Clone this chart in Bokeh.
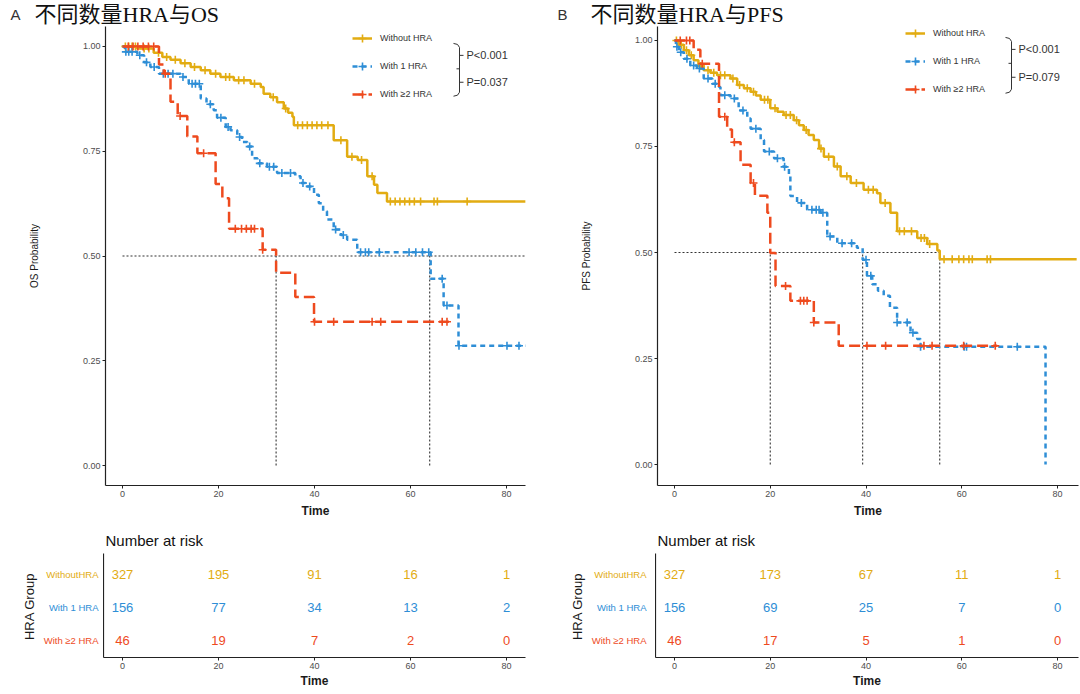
import numpy as np
from bokeh.plotting import figure
from bokeh.layouts import row, column
from bokeh.models import (Range1d, FixedTicker, NumeralTickFormatter, Legend, LegendItem)
from bokeh.core.properties import value
from bokeh.embed import file_html
from bokeh.resources import INLINE

# ---------------------------------------------------------------- data
GROUPS = ["Without HRA", "With 1 HRA", "With \u22652 HRA"]
TABLE_LABELS = ["WithoutHRA", "With 1 HRA", "With \u22652 HRA"]
COLORS = ["#E2AC12", "#2E8ED6", "#EE4A1E"]
DASHES = ["solid", "5 4", "11 5"]

TIME_TICKS = [0, 20, 40, 60, 80]
PROB_TICKS = [0.0, 0.25, 0.5, 0.75, 1.0]

# Panel A : OS
OS_WITHOUT_T = [0, 3, 6.5, 8.3, 10, 12.1, 14.2, 16.3, 18.3, 20.4, 23.2, 26.7, 28.8, 29.4, 30.8,
                32.2, 33.6, 34.5, 35.4, 35.7, 44.0, 46.8, 49.0, 51.0, 52.4, 53.1, 55.1, 84]
OS_WITHOUT_S = [1.0, 0.995, 0.985, 0.975, 0.968, 0.96, 0.951, 0.943, 0.935, 0.927, 0.919, 0.911,
                0.903, 0.887, 0.879, 0.867, 0.852, 0.842, 0.832, 0.812, 0.776, 0.737, 0.729, 0.69,
                0.67, 0.65, 0.63, 0.63]
OS_WITHOUT_CENSOR = [0.6, 1.3, 2.0, 2.7, 4.5, 5.5, 7.5, 9.2, 11.0, 13.0, 15.0, 17.2, 19.4, 21.5,
                     22.3, 24.2, 25.3, 27.5, 31.4, 34.0, 36.5, 37.5, 38.5, 39.5, 40.5, 41.5, 42.8,
                     45.5, 47.8, 49.8, 52.0, 55.8, 56.8, 57.8, 58.8, 59.8, 60.8, 62.1, 64.9, 65.6,
                     71.8]

OS_ONE_T = [0, 0.5, 3.1, 4.5, 5.8, 7.6, 12.1, 13.8, 16.3, 17.5, 19.0, 19.7, 21.5, 22.5, 23.9,
            24.9, 26.0, 27.0, 28.1, 30.1, 32.2, 36.0, 37.1, 38.1, 39.9, 40.9, 41.8, 42.6, 44.0,
            45.5, 46.8, 48.9, 64.2, 66.9, 70.0, 84]
OS_ONE_S = [1.0, 0.987, 0.979, 0.962, 0.951, 0.935, 0.927, 0.911, 0.876, 0.862, 0.848, 0.83,
            0.808, 0.8, 0.784, 0.772, 0.761, 0.733, 0.721, 0.713, 0.698, 0.69, 0.674, 0.666,
            0.646, 0.626, 0.607, 0.587, 0.563, 0.55, 0.539, 0.509, 0.446, 0.382, 0.286, 0.286]
OS_ONE_CENSOR = [0.7, 1.3, 2.0, 3.6, 5.0, 6.6, 8.5, 9.5, 10.5, 12.6, 14.5, 15.2, 16.0, 18.3, 20.5,
                 22.0, 24.4, 26.5, 28.6, 30.6, 31.5, 33.2, 35.0, 37.6, 39.0, 44.4, 46.0, 49.6,
                 50.6, 51.3, 53.5, 59.7, 61.1, 62.5, 63.8, 66.6, 67.6, 70.1, 80.1, 82.6]

OS_TWO_T = [0, 7.6, 8.6, 10.0, 11.5, 13.5, 15.6, 19.4, 20.8, 22.2, 29.2, 32.0, 36.0, 39.9, 68.0]
OS_TWO_S = [1.0, 0.957, 0.935, 0.868, 0.834, 0.785, 0.745, 0.672, 0.638, 0.565, 0.515, 0.46,
            0.402, 0.343, 0.343]
OS_TWO_CENSOR = [1.2, 2.2, 3.2, 4.3, 5.4, 6.5, 8.9, 12.0, 16.9, 23.5, 24.8, 25.8, 26.8, 27.5,
                 29.2, 40.0, 44.0, 52.0, 53.8, 66.6, 67.6]

OS_MEDIANS = [32.0, 64.0]
OS_MEDIAN_HLINE_END = 84
OS_PVALUES = ["P<0.001", "P=0.037"]

# Panel B : PFS
PFS_WITHOUT_T = [0, 0.8, 1.95, 3.0, 4.0, 5.0, 6.1, 7.5, 8.9, 11.7, 13.1, 14.5, 15.9, 17.0, 18.0,
                 20.0, 21.5, 22.8, 24.9, 26.0, 27.0, 28.0, 29.1, 30.2, 31.2, 33.3, 34.7, 36.8,
                 39.5, 42.3, 43.0, 45.1, 46.5, 50.7, 52.8, 54.9, 55.4, 84]
PFS_WITHOUT_S = [1.0, 0.99, 0.977, 0.965, 0.953, 0.94, 0.93, 0.924, 0.918, 0.91, 0.895, 0.887,
                 0.879, 0.87, 0.86, 0.84, 0.832, 0.824, 0.812, 0.8, 0.789, 0.777, 0.765, 0.745,
                 0.726, 0.703, 0.68, 0.664, 0.648, 0.64, 0.617, 0.594, 0.55, 0.534, 0.52, 0.505,
                 0.484, 0.484]
PFS_WITHOUT_CENSOR = [0.4, 1.4, 2.5, 3.5, 5.5, 7.0, 8.2, 9.6, 10.5, 12.2, 13.6, 15.2, 16.5, 18.8,
                      19.5, 21.0, 23.3, 24.2, 25.5, 27.5, 30.6, 32.2, 34.0, 36.0, 38.0, 40.5,
                      41.5, 44.0, 47.0, 48.0, 49.5, 51.5, 52.2, 53.3, 56.3, 58.0, 59.4, 60.4,
                      61.5, 62.2, 65.3, 66.0]

PFS_ONE_T = [0, 0.3, 0.9, 1.95, 3.3, 4.7, 6.1, 7.9, 9.3, 9.6, 11.7, 13.4, 15.2, 15.9, 18.0, 18.7,
             20.8, 22.8, 23.9, 24.2, 25.6, 27.7, 30.5, 31.9, 34.0, 38.1, 39.3, 40.2, 41.3, 42.5,
             43.7, 45.0, 46.5, 49.3, 50.7, 51.4, 77.5]
PFS_ONE_S = [1.0, 0.985, 0.972, 0.957, 0.941, 0.934, 0.91, 0.898, 0.89, 0.871, 0.863, 0.835,
             0.816, 0.792, 0.765, 0.738, 0.722, 0.702, 0.68, 0.633, 0.617, 0.601, 0.594, 0.538,
             0.522, 0.511, 0.483, 0.445, 0.425, 0.41, 0.398, 0.37, 0.335, 0.311, 0.296, 0.278,
             0.0]
PFS_ONE_CENSOR = [0.5, 1.3, 2.6, 4.0, 5.2, 7.0, 8.5, 10.5, 12.5, 14.3, 17.0, 19.8, 21.5, 23.0,
                  26.5, 28.7, 29.6, 30.2, 31.0, 32.5, 35.0, 37.0, 40.0, 41.0, 46.5, 48.6, 49.8,
                  51.4, 60.5, 61.0, 71.6]

PFS_TWO_T = [0, 4.0, 5.4, 9.3, 11.0, 12.0, 13.8, 15.9, 16.8, 19.4, 20.0, 21.1, 24.2, 29.1, 34.3,
             67.4]
PFS_TWO_S = [1.0, 0.978, 0.945, 0.82, 0.79, 0.76, 0.707, 0.664, 0.634, 0.594, 0.499, 0.421,
             0.386, 0.335, 0.28, 0.28]
PFS_TWO_CENSOR = [1.2, 2.5, 3.2, 5.8, 10.5, 12.5, 16.5, 23.2, 26.3, 27.0, 27.7, 29.1, 40.2, 44.1,
                  52.1, 53.8, 60.4, 67.0]

PFS_MEDIANS = [20.0, 39.3, 55.4]
PFS_MEDIAN_HLINE_END = 55.4
PFS_PVALUES = ["P<0.001", "P=0.079"]

# Number at risk
RISK_TIMES = [0, 20, 40, 60, 80]
OS_RISK_WITHOUT = [327, 195, 91, 16, 1]
OS_RISK_ONE = [156, 77, 34, 13, 2]
OS_RISK_TWO = [46, 19, 7, 2, 0]
PFS_RISK_WITHOUT = [327, 173, 67, 11, 1]
PFS_RISK_ONE = [156, 69, 25, 7, 0]
PFS_RISK_TWO = [46, 17, 5, 1, 0]

PANEL_LETTERS = ["A", "B"]
PANEL_TITLES = ["不同数量HRA与OS", "不同数量HRA与PFS"]

# ---------------------------------------------------------------- layout / style
SANS = "Liberation Sans"
TITLE_FONT = "Liberation Serif, Noto Sans CJK SC"
INK = "#1a1a1a"
TICK_GRAY = "#4d4d4d"
ROW_POS = [3, 2, 1]
HEADER_H = 26


def geo(fig_x, fig_y, fig_w, fig_h, f_left, f_right, f_top, f_bottom, x0, ppx, y0, ppy):
    return dict(fig_x=fig_x, fig_y=fig_y, fig_w=fig_w, fig_h=fig_h, f_left=f_left,
                f_right=f_right, f_top=f_top, f_bottom=f_bottom, x0=x0, ppx=ppx, y0=y0, ppy=ppy)


G_KM_A = geo(0, 26, 548, 494, 105, 525, 26, 487, 122, 4.8, 467, 421)
G_KM_B = geo(548, 26, 531, 494, 657, 1078, 26, 487, 674, 4.7875, 466, 426)
G_LAB_A = geo(0, 520, 103, 173, 0, 103, 553, 657, 0, 1.0, 673, 33)
G_TAB_A = geo(103, 520, 445, 173, 103, 525, 553, 657, 122, 4.8, 673, 33)
G_LAB_B = geo(548, 520, 107, 173, 548, 655, 553, 657, 548, 1.0, 673, 33)
G_TAB_B = geo(655, 520, 424, 173, 655, 1078, 553, 657, 674, 4.7875, 673, 33)


def dx(g, px):
    return (px - g["x0"]) / g["ppx"]


def dy(g, py):
    return (g["y0"] - py) / g["ppy"]


def base_figure(g, axes=True):
    kw = {} if axes else dict(x_axis_type=None, y_axis_type=None)
    p = figure(width=g["fig_w"], height=g["fig_h"], output_backend="svg", toolbar_location=None,
               x_range=Range1d(dx(g, g["f_left"]), dx(g, g["f_right"])),
               y_range=Range1d(dy(g, g["f_bottom"]), dy(g, g["f_top"])),
               min_border_left=g["f_left"] - g["fig_x"],
               min_border_right=g["fig_x"] + g["fig_w"] - g["f_right"],
               min_border_top=g["f_top"] - g["fig_y"],
               min_border_bottom=g["fig_y"] + g["fig_h"] - g["f_bottom"], **kw)
    p.outline_line_color = None
    p.grid.visible = False
    p.background_fill_color = "white"
    p.border_fill_color = "white"
    if axes:
        for ax in (p.xaxis[0], p.yaxis[0]):
            ax.axis_line_color = "#222222"
            ax.axis_line_width = 1.2
            ax.major_tick_line_color = "#222222"
            ax.major_tick_out = 3
            ax.major_tick_in = 0
            ax.minor_tick_line_color = None
            ax.major_label_text_font = SANS
            ax.major_label_text_font_size = "9px"
            ax.major_label_text_color = TICK_GRAY
            ax.major_label_standoff = 2
            ax.axis_label_text_font = SANS
            ax.axis_label_text_font_style = "bold"
            ax.axis_label_text_color = INK
    return p


def header_figure():
    g = geo(0, 0, 1079, HEADER_H, 0, 1079, 0, HEADER_H, 0, 1.0, HEADER_H, 1.0)
    p = base_figure(g, axes=False)
    # letter + title of each panel
    p.text(x=[10, 557], y=[dy(g, 14)] * 2, text=PANEL_LETTERS, text_font=value(SANS),
           text_font_size="15px", text_color="#333333", text_baseline="middle")
    p.text(x=[34, 590], y=[dy(g, 14)] * 2, text=PANEL_TITLES, text_font=value(TITLE_FONT),
           text_font_size="22px", text_color="#111111", text_baseline="middle")
    return p


def surv_at(times, surv, tc):
    idx = np.searchsorted(np.asarray(times), np.asarray(tc), side="right") - 1
    return np.asarray(surv)[idx]


def km_panel(g, ylabel, curves, medians, hline_end, pvalues, lg, br):
    p = base_figure(g)
    xa, ya = p.xaxis[0], p.yaxis[0]
    xa.ticker = FixedTicker(ticks=TIME_TICKS)
    xa.axis_label = "Time"
    xa.axis_label_text_font_size = "12px"
    xa.axis_label_standoff = 4
    ya.ticker = FixedTicker(ticks=PROB_TICKS)
    ya.formatter = NumeralTickFormatter(format="0.00")
    ya.axis_label = ylabel
    ya.axis_label_text_font_size = "10px"
    ya.axis_label_text_font_style = "normal"
    ya.axis_label_standoff = 40

    # median reference lines
    p.segment(x0=[0] + medians, y0=[0.5] + [0] * len(medians),
              x1=[hline_end] + medians, y1=[0.5] * (len(medians) + 1),
              line_color="#333333", line_width=1.1, line_dash="2 2")

    items = []
    for name, color, dash, (t, s, c) in zip(GROUPS, COLORS, DASHES, curves):
        r1 = p.step(t, s, mode="after", line_color=color, line_width=2.5, line_dash=dash)
        r2 = p.scatter(c, surv_at(t, s, c), marker="cross", size=8, line_color=color,
                       line_width=1.6)
        items.append(LegendItem(label=name, renderers=[r1, r2]))

    # legend: 3 rows of 20px + 2 gaps of 8px = 76px tall
    legend = Legend(items=items,
                    location=(lg["x"] - g["f_left"], g["f_bottom"] - (lg["top"] + 76)),
                    orientation="vertical", padding=0, margin=0, spacing=8,
                    glyph_height=20, label_height=20, glyph_width=20, label_standoff=8,
                    label_text_font=SANS, label_text_font_size="9px", label_text_color="#333333",
                    background_fill_alpha=0, border_line_color=None)
    p.add_layout(legend)

    # bracket + p-values
    x, top, bot, t1, t2 = br["x"], br["top"], br["bottom"], br["t1"], br["t2"]
    mid = (t1 + t2) / 2
    segs = [
        [(x - 6, top), (x - 2, top + 1), (x, top + 4), (x, bot - 4), (x - 2, bot - 1), (x - 6, bot)],
        [(x, t1), (x + 4, t1)],
        [(x, t2), (x + 4, t2)],
        [(x, mid), (x - 3, mid)],
    ]
    p.multi_line(xs=[[dx(g, a) for a, b in s] for s in segs],
                 ys=[[dy(g, b) for a, b in s] for s in segs],
                 line_color="#333333", line_width=1)
    p.text(x=[dx(g, x + 7)] * 2, y=[dy(g, t1), dy(g, t2)], text=pvalues,
           text_font=value(SANS), text_font_size="11px", text_color="#333333",
           text_align="left", text_baseline="middle")
    return p


def risk_label_panel(g):
    p = base_figure(g, axes=False)
    p.text(x=[dx(g, g["fig_x"] + 98)] * 3, y=ROW_POS, text=TABLE_LABELS, text_color=COLORS,
           text_font=value(SANS), text_font_size="9.5px", text_align="right",
           text_baseline="middle")
    p.text(x=[dx(g, g["fig_x"] + 29)], y=[dy(g, 606)], text=["HRA Group"], angle=np.pi / 2,
           text_font=value(SANS), text_font_size="13px", text_color=INK,
           text_align="center", text_baseline="middle")
    return p


def risk_panel(g, rows_values):
    p = base_figure(g)
    p.title.text = "Number at risk"
    p.title.text_font = SANS
    p.title.text_font_size = "15px"
    p.title.text_font_style = "normal"
    p.title.text_color = "#111111"
    p.title.align = "left"
    p.title.offset = 2
    p.title.standoff = 9
    xa, ya = p.xaxis[0], p.yaxis[0]
    xa.ticker = FixedTicker(ticks=RISK_TIMES)
    xa.axis_label = "Time"
    xa.axis_label_text_font_size = "12px"
    xa.axis_label_standoff = 2
    ya.ticker = FixedTicker(ticks=[])
    ya.major_tick_out = 0
    ya.major_label_standoff = 0

    for vals, color, rpos in zip(rows_values, COLORS, ROW_POS):
        p.text(x=RISK_TIMES, y=[rpos] * len(RISK_TIMES), text=[str(v) for v in vals],
               text_color=color, text_font=value(SANS), text_font_size="13px",
               text_align="center", text_baseline="middle")
    return p


header = header_figure()
km_a = km_panel(G_KM_A, "OS Probability",
                [(OS_WITHOUT_T, OS_WITHOUT_S, OS_WITHOUT_CENSOR),
                 (OS_ONE_T, OS_ONE_S, OS_ONE_CENSOR),
                 (OS_TWO_T, OS_TWO_S, OS_TWO_CENSOR)],
                OS_MEDIANS, OS_MEDIAN_HLINE_END, OS_PVALUES,
                dict(x=352, top=30), dict(x=459, top=43, bottom=96, t1=55, t2=82))
km_b = km_panel(G_KM_B, "PFS Probability",
                [(PFS_WITHOUT_T, PFS_WITHOUT_S, PFS_WITHOUT_CENSOR),
                 (PFS_ONE_T, PFS_ONE_S, PFS_ONE_CENSOR),
                 (PFS_TWO_T, PFS_TWO_S, PFS_TWO_CENSOR)],
                PFS_MEDIANS, PFS_MEDIAN_HLINE_END, PFS_PVALUES,
                dict(x=905, top=25), dict(x=1011, top=37, bottom=93, t1=49, t2=77))
lab_a = risk_label_panel(G_LAB_A)
tab_a = risk_panel(G_TAB_A, [OS_RISK_WITHOUT, OS_RISK_ONE, OS_RISK_TWO])
lab_b = risk_label_panel(G_LAB_B)
tab_b = risk_panel(G_TAB_B, [PFS_RISK_WITHOUT, PFS_RISK_ONE, PFS_RISK_TWO])

layout = column(header, row(km_a, km_b), row(lab_a, tab_a, lab_b, tab_b))
open("out.html", "w").write(file_html(layout, INLINE))
